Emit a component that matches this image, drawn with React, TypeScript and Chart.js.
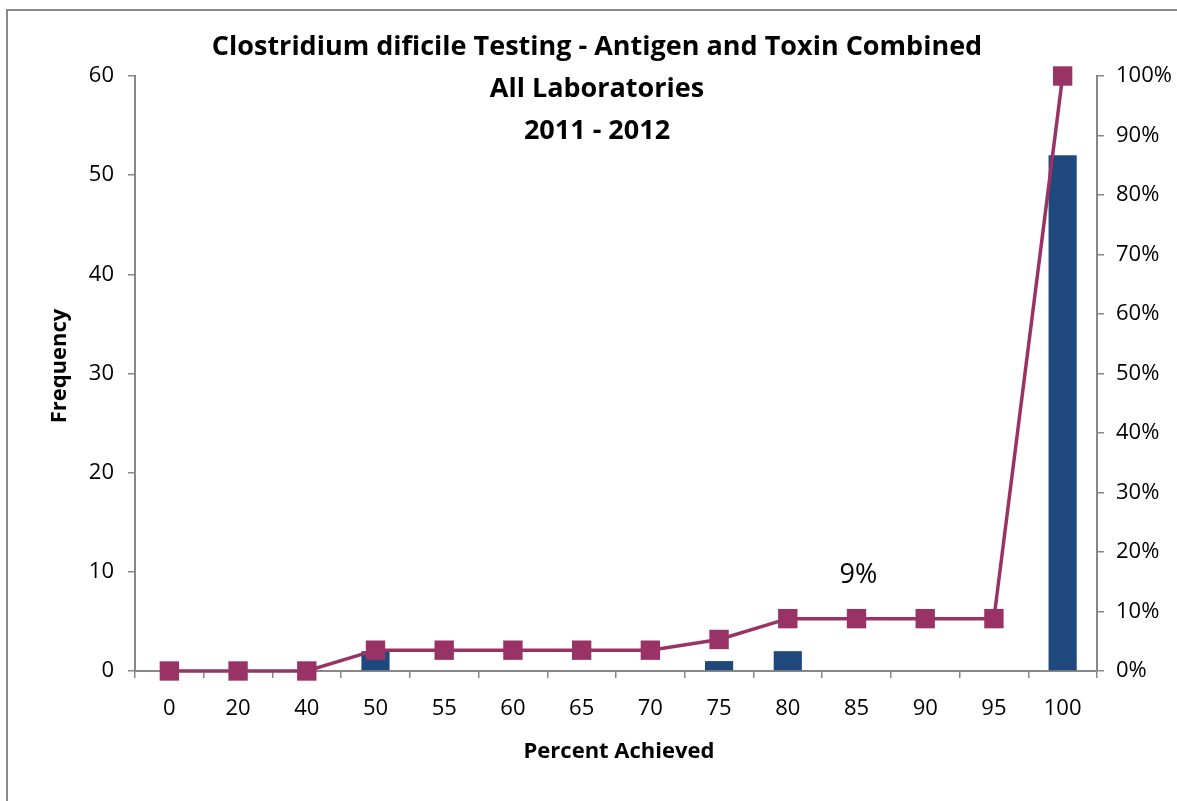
import React, { useEffect, useRef } from "react";
import { Chart, registerables } from "chart.js";

Chart.register(...registerables);

const categories = ["0", "20", "40", "50", "55", "60", "65", "70", "75", "80", "85", "90", "95", "100"];
const frequency = [0, 0, 0, 2, 0, 0, 0, 0, 1, 2, 0, 0, 0, 52];
const cumulativePercent = [0, 0, 0, 3.5, 3.5, 3.5, 3.5, 3.5, 5.3, 8.8, 8.8, 8.8, 8.8, 100];
const titleLines = ["Clostridium dificile Testing - Antigen and Toxin Combined", "All Laboratories", "2011 - 2012"];
const labelIndex = 10;
const labelText = "9%";

const FONT = "'Open Sans', Lato, sans-serif";
const AXIS = "#878787";
const BAR = "#1F497D";
const LINE = "#993366";

export default function App() {
  const ref = useRef<HTMLCanvasElement | null>(null);

  useEffect(() => {
    document.body.style.margin = "0";
    const canvas = ref.current;
    if (!canvas) return;

    const decor = {
      id: "decor",
      beforeDraw(chart: any) {
        const ctx = chart.ctx;
        ctx.save();
        ctx.fillStyle = "#ffffff";
        ctx.fillRect(0, 0, chart.width, chart.height);
        ctx.strokeStyle = "#8a8a8a";
        ctx.lineWidth = 2;
        ctx.strokeRect(7, 10, chart.width + 20, chart.height + 20);
        ctx.restore();
      },
      afterDraw(chart: any) {
        const ctx = chart.ctx;
        ctx.save();
        ctx.fillStyle = "#000";
        ctx.textAlign = "center";
        ctx.textBaseline = "middle";
        ctx.font = `bold 27px ${FONT}`;
        titleLines.forEach((t, i) => ctx.fillText(t, 597, 47 + i * 42));
        ctx.font = `bold 22px ${FONT}`;
        ctx.fillText("Percent Achieved", 619, 752);
        ctx.save();
        ctx.translate(60, 366);
        ctx.rotate(-Math.PI / 2);
        ctx.fillText("Frequency", 0, 0);
        ctx.restore();
        const meta = chart.getDatasetMeta(1);
        const pt = meta.data[labelIndex];
        if (pt) {
          ctx.font = `27px ${FONT}`;
          ctx.fillText(labelText, pt.x + 2, pt.y - 43);
        }
        ctx.restore();
      },
    };

    const chart = new Chart(canvas, {
      type: "bar",
      data: {
        labels: categories,
        datasets: [
          {
            type: "bar",
            label: "Frequency",
            data: frequency,
            backgroundColor: BAR,
            categoryPercentage: 1,
            barPercentage: 0.41,
            yAxisID: "y",
            order: 2,
          },
          {
            type: "line",
            label: "Cumulative %",
            data: cumulativePercent,
            borderColor: LINE,
            backgroundColor: LINE,
            borderWidth: 3.5,
            pointStyle: "rect",
            pointRadius: 13.7,
            pointBorderWidth: 0,
            pointBackgroundColor: LINE,
            yAxisID: "y1",
            order: 1,
            clip: false,
            tension: 0,
          } as any,
        ],
      },
      options: {
        animation: false,
        responsive: false,
        maintainAspectRatio: false,
        devicePixelRatio: 1,
        layout: { padding: { left: 0, right: 0, top: 76, bottom: 0 } },
        plugins: { legend: { display: false }, tooltip: { enabled: false }, title: { display: false } },
        scales: {
          x: {
            offset: true,
            grid: { display: true, drawOnChartArea: false, offset: true, tickLength: 7, color: AXIS, lineWidth: 1.5 },
            border: { color: AXIS, width: 2 },
            ticks: { color: "#000", font: { family: FONT, size: 22 }, padding: 18, maxRotation: 0, autoSkip: false },
            afterFit(scale: any) {
              scale.height = 130;
            },
          },
          y: {
            position: "left",
            min: 0,
            max: 60,
            ticks: { stepSize: 10, color: "#000", font: { family: FONT, size: 22 }, padding: 14 },
            grid: { display: true, drawOnChartArea: false, tickLength: 7, color: AXIS, lineWidth: 1.5 },
            border: { color: AXIS, width: 2 },
            afterFit(scale: any) {
              scale.width = 135;
            },
          },
          y1: {
            position: "right",
            min: 0,
            max: 100,
            ticks: {
              stepSize: 10,
              color: "#000",
              font: { family: FONT, size: 22 },
              padding: 12,
              callback: (v: any) => `${v}%`,
            },
            grid: { display: true, drawOnChartArea: false, tickLength: 7, color: AXIS, lineWidth: 1.5 },
            border: { color: AXIS, width: 2 },
            afterFit(scale: any) {
              scale.width = 80;
            },
          },
        },
      },
      plugins: [decor],
    });

    return () => chart.destroy();
  }, []);

  return (
    <div style={{ width: 1177, height: 801 }}>
      <canvas ref={ref} width={1177} height={801} style={{ display: "block", width: 1177, height: 801 }} />
    </div>
  );
}
